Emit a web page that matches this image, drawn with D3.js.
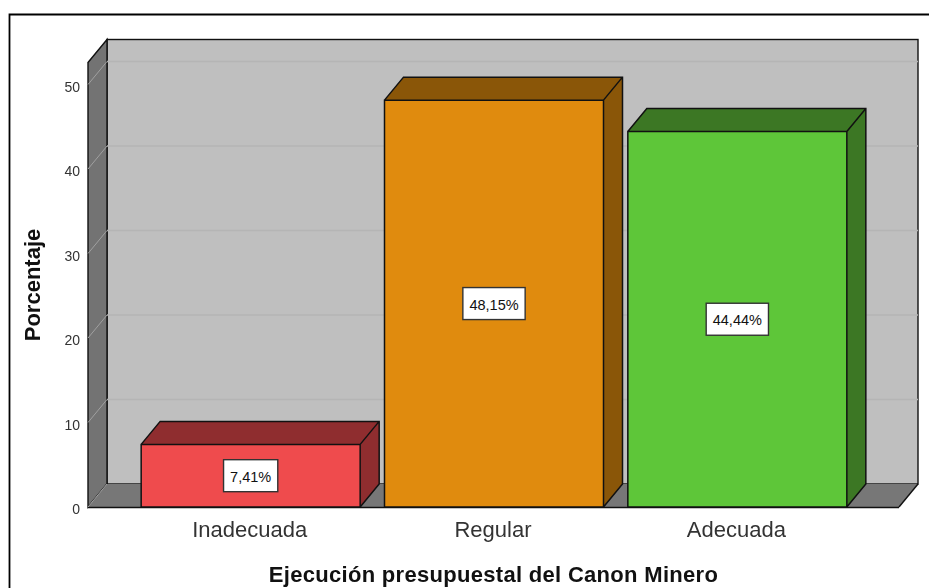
<!DOCTYPE html>
<html>
<head>
<meta charset="utf-8">
<style>
html, body { margin: 0; padding: 0; background: #fff; overflow: hidden; }
svg { display: block; font-family: "Liberation Sans", Arial, sans-serif; filter: blur(0.35px); }
</style>
<script src="https://cdn.jsdelivr.net/npm/d3@7"></script>
</head>
<body>
<svg></svg>
<script>
// values
var categories = ["Inadecuada", "Regular", "Adecuada"];
var values = [7.41, 48.15, 44.44];
var valueLabels = ["7,41%", "48,15%", "44,44%"];
var frontColors = ["#ef4b4d", "#e08b0e", "#5ec639"];
var sideColors = ["#8f2d2f", "#8a5608", "#3c7724"];
var yTicks = [0, 10, 20, 30, 40, 50];

var svgWidth = 929,
    svgHeight = 588,
    depthX = 19,
    depthY = 23;

var svg = d3.select("svg")
    .attr("width", svgWidth)
    .attr("height", svgHeight);

var xScale = d3.scaleBand()
    .domain(categories)
    .range([129, 859])
    .paddingInner(0.1)
    .paddingOuter(0.05);

var yScale = d3.scaleLinear()
    .domain([0, 50])
    .range([507, 84.5]);

var left = 88,
    right = 899,
    bottom = yScale(0),
    top3d = 62.5;

function poly(points) {
    return points.map(function(p) { return p.join(","); }).join(" ");
}

// image frame, only top and left are visible
svg.append("path")
    .attr("d", "M9.5,588V14.5H929")
    .attr("fill", "none")
    .attr("stroke", "#000")
    .attr("stroke-width", 1.8);

var chart = svg.append("g");

// back wall
chart.append("rect")
    .attr("x", left + depthX)
    .attr("y", top3d - depthY)
    .attr("width", right - left)
    .attr("height", bottom - top3d)
    .attr("fill", "#bfbfbf")
    .attr("stroke", "#111")
    .attr("stroke-width", 1.4);

// left wall
chart.append("polygon")
    .attr("points", poly([[left, top3d], [left + depthX, top3d - depthY], [left + depthX, bottom - depthY], [left, bottom]]))
    .attr("fill", "#737373")
    .attr("stroke", "#111")
    .attr("stroke-width", 1.4);

// floor
chart.append("polygon")
    .attr("points", poly([[left, bottom], [left + depthX, bottom - depthY], [right + depthX, bottom - depthY], [right, bottom]]))
    .attr("fill", "#777777");

chart.append("line")
    .attr("x1", left).attr("x2", right)
    .attr("y1", bottom + 0.5).attr("y2", bottom + 0.5)
    .attr("stroke", "#111")
    .attr("stroke-width", 1.6);

chart.append("line")
    .attr("x1", right).attr("x2", right + depthX)
    .attr("y1", bottom).attr("y2", bottom - depthY)
    .attr("stroke", "#111")
    .attr("stroke-width", 1.4);

// gridlines on the back wall and the left wall
var grid = chart.selectAll(".grid")
    .data(yTicks)
    .enter()
    .append("g")
    .attr("class", "grid");

grid.filter(function(d) { return d > 0; })
    .append("line")
    .attr("x1", left + depthX)
    .attr("x2", right + depthX)
    .attr("y1", function(d) { return yScale(d) - depthY; })
    .attr("y2", function(d) { return yScale(d) - depthY; })
    .attr("stroke", "#b5b5b5")
    .attr("stroke-width", 1.5);

grid.append("line")
    .attr("x1", left)
    .attr("x2", left + depthX)
    .attr("y1", function(d) { return yScale(d); })
    .attr("y2", function(d) { return yScale(d) - depthY; })
    .attr("stroke", "#a0a0a0")
    .attr("stroke-width", 1);

// bars
var bars = chart.selectAll(".bar")
    .data(values)
    .enter()
    .append("g")
    .attr("class", "bar");

function barX(i) { return xScale(categories[i]); }

bars.append("polygon")
    .attr("points", function(d, i) {
        var x0 = barX(i), x1 = x0 + xScale.bandwidth(), y = yScale(d);
        return poly([[x0, y], [x0 + depthX, y - depthY], [x1 + depthX, y - depthY], [x1, y]]);
    })
    .attr("fill", function(d, i) { return sideColors[i]; });

bars.append("polygon")
    .attr("points", function(d, i) {
        var x1 = barX(i) + xScale.bandwidth(), y = yScale(d);
        return poly([[x1, y], [x1 + depthX, y - depthY], [x1 + depthX, bottom - depthY], [x1, bottom]]);
    })
    .attr("fill", function(d, i) { return sideColors[i]; });

bars.append("rect")
    .attr("x", function(d, i) { return barX(i); })
    .attr("y", function(d) { return yScale(d); })
    .attr("width", xScale.bandwidth())
    .attr("height", function(d) { return bottom - yScale(d); })
    .attr("fill", function(d, i) { return frontColors[i]; });

// outline of each block
bars.append("path")
    .attr("d", function(d, i) {
        var x0 = barX(i), x1 = x0 + xScale.bandwidth(), y = yScale(d);
        return "M" + x0 + "," + bottom + "V" + y + "H" + x1 + "V" + bottom + "Z" +
            "M" + x0 + "," + y + "L" + (x0 + depthX) + "," + (y - depthY) + "H" + (x1 + depthX) +
            "V" + (bottom - depthY) + "L" + x1 + "," + bottom +
            "M" + x1 + "," + y + "L" + (x1 + depthX) + "," + (y - depthY);
    })
    .attr("fill", "none")
    .attr("stroke", "#111")
    .attr("stroke-width", 1.5);

// value labels in white boxes
var labels = chart.selectAll(".value")
    .data(values)
    .enter()
    .append("g")
    .attr("class", "value")
    .attr("transform", function(d, i) {
        return "translate(" + (barX(i) + xScale.bandwidth() / 2) + "," + ((yScale(d) + bottom) / 2) + ")";
    });

var labelBox = labels.append("rect")
    .attr("fill", "#fff")
    .attr("stroke", "#333")
    .attr("stroke-width", 1.4);

labels.append("text")
    .text(function(d, i) { return valueLabels[i]; })
    .attr("text-anchor", "middle")
    .attr("dy", "0.42em")
    .attr("font-size", 14.5)
    .attr("fill", "#111");

labelBox.each(function() {
    var w = this.parentNode.querySelector("text").getBBox().width + 13;
    d3.select(this)
        .attr("x", -w / 2)
        .attr("y", -16)
        .attr("width", w)
        .attr("height", 32);
});

// axes
var yAxis = d3.axisLeft(yScale)
    .tickValues(yTicks)
    .tickSize(0)
    .tickPadding(8);

var yAxisG = svg.append("g")
    .attr("transform", "translate(" + left + ",2.5)")
    .call(yAxis);
yAxisG.select(".domain").remove();
yAxisG.selectAll("text")
    .attr("font-family", "Liberation Sans")
    .attr("font-size", 14)
    .attr("fill", "#333");

var xAxis = d3.axisBottom(xScale)
    .tickSize(0)
    .tickPadding(14);

var xAxisG = svg.append("g")
    .attr("transform", "translate(-1," + bottom + ")")
    .call(xAxis);
xAxisG.select(".domain").remove();
xAxisG.selectAll("text")
    .attr("font-family", "Liberation Sans")
    .attr("font-size", 22)
    .attr("fill", "#333");

// axis titles
svg.append("text")
    .text("Ejecución presupuestal del Canon Minero")
    .attr("x", 493.5)
    .attr("y", 582)
    .attr("text-anchor", "middle")
    .attr("font-size", 22)
    .attr("letter-spacing", 0.3)
    .attr("font-weight", "bold")
    .attr("fill", "#111");

svg.append("text")
    .text("Porcentaje")
    .attr("transform", "translate(40,285) rotate(-90)")
    .attr("text-anchor", "middle")
    .attr("font-size", 22)
    .attr("font-weight", "bold")
    .attr("fill", "#111");
</script>
</body>
</html>
